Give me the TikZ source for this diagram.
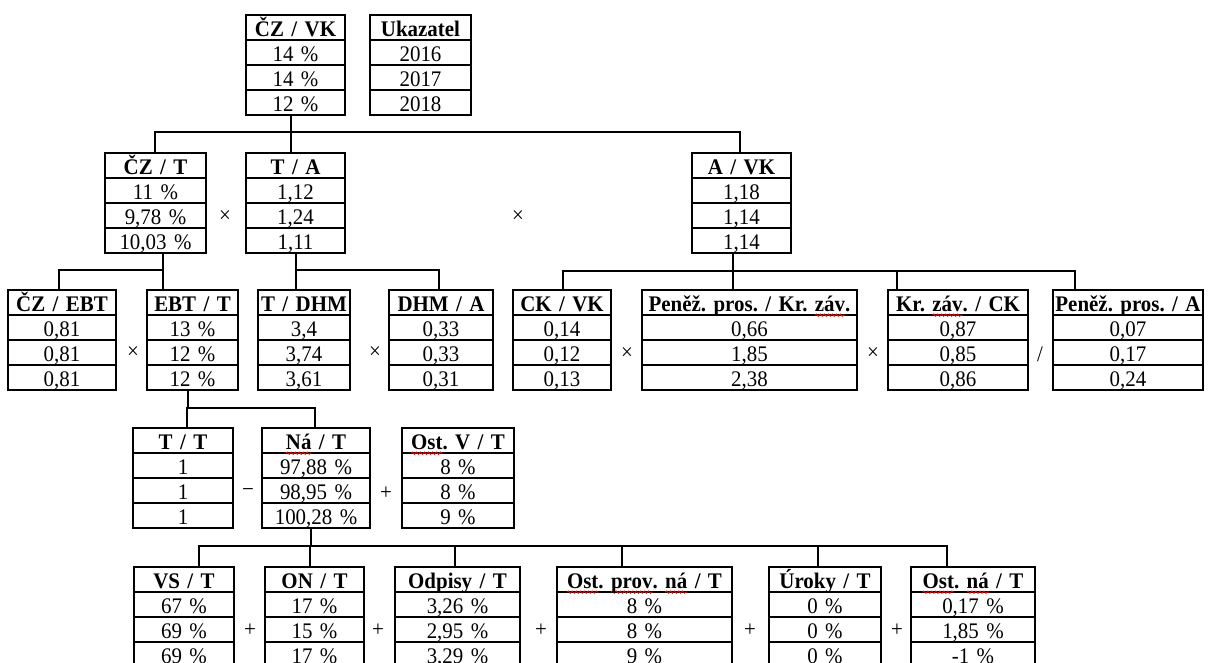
\documentclass[tikz,border=0pt]{standalone}
\usepackage{fontspec}
\setmainfont{Liberation Serif}[FakeStretch=0.94]
\usetikzlibrary{shapes.multipart,decorations.pathmorphing}
\newcommand\spellwave[1]{\setbox0\hbox{#1}\rlap{\tikz[overlay,x=1pt,y=1pt]\draw[red,line width=0.6pt,decorate,decoration={snake,amplitude=0.9pt,segment length=3pt}] (0,-2.6) -- (\the\wd0,-2.6);}\box0\relax}
\newcommand\rowstrut{\rule[-2pt]{0pt}{17.75pt}}
\newcommand\cells[4]{\smash{\textbf{#1}}\rowstrut\nodepart{two}\smash{#2}\rowstrut\nodepart{three}\smash{#3}\rowstrut\nodepart{four}\smash{#4}\rowstrut}

\begin{document}
\begin{tikzpicture}[x=0.75pt,y=-0.75pt,font=\fontsize{16.7}{18}\selectfont\frenchspacing,
  tbl/.style={rectangle split,rectangle split parts=4,draw,line width=1pt,inner xsep=0pt,inner ysep=0pt,outer sep=0pt,anchor=north west,align=center},
  op/.style={inner sep=0pt},
  link/.style={line width=0.8pt}]
\useasboundingbox (0,0) rectangle (1210,662);
% top
\node[tbl,text width=74.25pt] (czvk) at (246,15) {\cells{ČZ / VK}{14 \%}{14 \%}{12 \%}};
\node[tbl,text width=75.75pt] (ukaz) at (370,15) {\cells{Ukazatel}{2016}{2017}{2018}};
% second level
\node[tbl,text width=75.75pt] (czt) at (105,153) {\cells{ČZ / T}{11 \%}{9,78 \%}{10,03 \%}};
\node[tbl,text width=74.25pt] (ta) at (246,153) {\cells{T / A}{1,12}{1,24}{1,11}};
\node[tbl,text width=74.25pt] (avk) at (692,153) {\cells{A / VK}{1,18}{1,14}{1,14}};
\node[op] (o21) at (225,217) {×};
\node[op] (o22) at (518,217) {×};
% third level
\node[tbl,text width=81pt] (czebt) at (8,290) {\cells{ČZ / EBT}{0,81}{0,81}{0,81}};
\node[tbl,text width=68.25pt] (ebtt) at (147,290) {\cells{EBT / T}{13 \%}{12 \%}{12 \%}};
\node[tbl,text width=69pt] (tdhm) at (258,290) {\cells{T / DHM}{3,4}{3,74}{3,61}};
\node[tbl,text width=78pt] (dhma) at (389,290) {\cells{DHM / A}{0,33}{0,33}{0,31}};
\node[tbl,text width=73.5pt] (ckvk) at (513,290) {\cells{CK / VK}{0,14}{0,12}{0,13}};
\node[tbl,text width=161.25pt] (penkr) at (642,290) {\cells{Peněž. pros. / Kr. \spellwave{záv}.}{0,66}{1,85}{2,38}};
\node[tbl,text width=105pt] (krck) at (888,290) {\cells{Kr. \spellwave{záv}. / CK}{0,87}{0,85}{0,86}};
\node[tbl,text width=112.5pt] (pena) at (1053,290) {\cells{Peněž. pros. / A}{0,07}{0,17}{0,24}};
\node[op] (o31) at (133,353) {×};
\node[op] (o32) at (375,353) {×};
\node[op] (o33) at (627,354) {×};
\node[op] (o34) at (873,354) {×};
\node[op] (o35) at (1040,354) {/};
% fourth level
\node[tbl,text width=75pt] (tt) at (133,428) {\cells{T / T}{1}{1}{1}};
\node[tbl,text width=81pt] (nat) at (262,428) {\cells{\spellwave{Ná} / T}{97,88 \%}{98,95 \%}{100,28 \%}};
\node[tbl,text width=84pt] (ostv) at (402,428) {\cells{\spellwave{Ost}. V / T}{8 \%}{8 \%}{9 \%}};
\node[op] (o41) at (248,493) {−};
\node[op] (o42) at (386,493) {+};
% fifth level
\node[tbl,text width=75pt] (vst) at (134,567) {\cells{VS / T}{67 \%}{69 \%}{69 \%}};
\node[tbl,text width=74.25pt] (ont) at (265,567) {\cells{ON / T}{17 \%}{15 \%}{17 \%}};
\node[tbl,text width=93.75pt] (odp) at (395,567) {\cells{Odpisy / T}{3,26 \%}{2,95 \%}{3,29 \%}};
\node[tbl,text width=131.25pt] (ostprov) at (557,567) {\cells{\spellwave{Ost}. \spellwave{prov}. \spellwave{ná} / T}{8 \%}{8 \%}{9 \%}};
\node[tbl,text width=84pt] (urok) at (769,567) {\cells{Úroky / T}{0 \%}{0 \%}{0 \%}};
\node[tbl,text width=93pt] (ostna) at (911,567) {\cells{\spellwave{Ost}. \spellwave{ná} / T}{0,17 \%}{1,85 \%}{-1 \%}};
\foreach \o/\x in {o51/250,o52/378,o53/541,o54/750,o55/897}
  \node[op] (\o) at (\x,630) {+};
% connectors
\foreach \c/\x in {czt/155,ta/291,avk/740}
  \draw[link] (\c.north -| \x,0) -- ++(0,-21) -| (czvk.south -| 291,0);
\foreach \c/\x in {czebt/59,ebtt/163}
  \draw[link] (\c.north -| \x,0) -- ++(0,-20) -| (czt.south -| 163,0);
\foreach \c/\x in {tdhm/296,dhma/439}
  \draw[link] (\c.north -| \x,0) -- ++(0,-20) -| (ta.south -| 296,0);
\foreach \c/\x in {ckvk/563,penkr/733,krck/897,pena/1075}
  \draw[link] (\c.north -| \x,0) -- ++(0,-19) -| (avk.south -| 733,0);
\foreach \c/\x in {tt/187,nat/315}
  \draw[link] (\c.north -| \x,0) -- ++(0,-20) -| (ebtt.south -| 188,0);
\foreach \c/\x in {vst/199,ont/310,odp/455,ostprov/622,urok/818,ostna/947}
  \draw[link] (\c.north -| \x,0) -- ++(0,-21) -| (nat.south -| 311,0);
\end{tikzpicture}
\end{document}
